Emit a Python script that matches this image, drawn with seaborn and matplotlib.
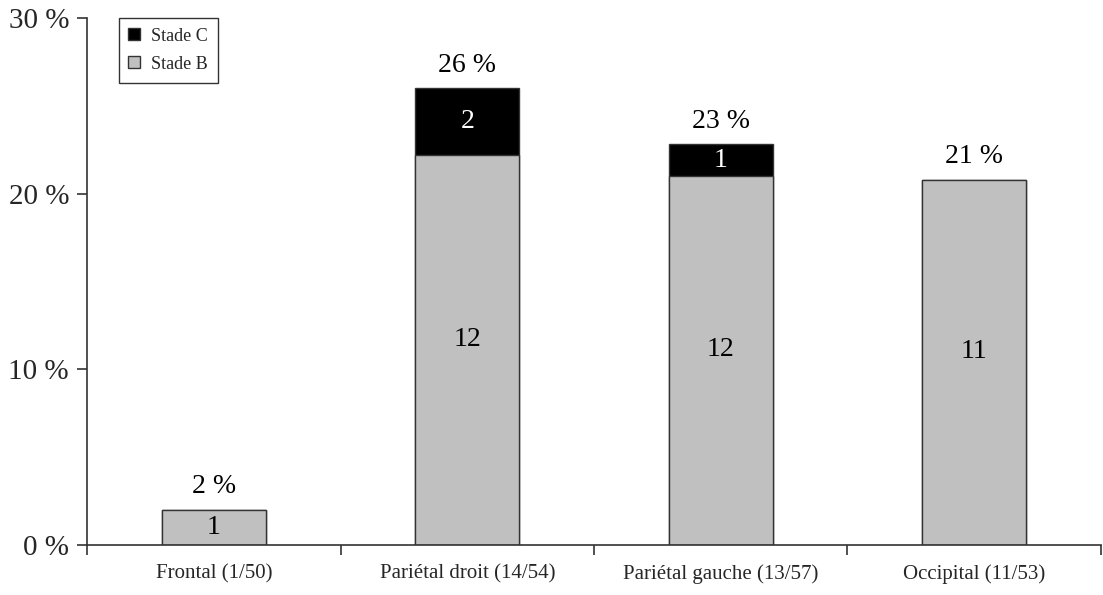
import numpy as np
import matplotlib.pyplot as plt
import seaborn as sns
import pandas as pd
from matplotlib.patches import Patch

categories = ["Frontal (1/50)", "Pariétal droit (14/54)", "Pariétal gauche (13/57)", "Occipital (11/53)"]
stade_b_pct = [2.0, 22.2, 21.0, 20.8]
stade_c_pct = [0.0, 3.8, 1.8, 0.0]
stade_b_n = ["1", "12", "12", "11"]
stade_c_n = ["", "2", "1", ""]
total_labels = ["2 %", "26 %", "23 %", "21 %"]

GREY = "#c0c0c0"

sns.set_style("white")
plt.rcParams["font.family"] = ["Liberation Serif", "DejaVu Serif"]

df = pd.DataFrame({"lieu": categories, "b": stade_b_pct, "c": stade_c_pct})
df["total"] = df["b"] + df["c"]

fig = plt.figure(figsize=(11.03, 5.95), dpi=100)
ax = fig.add_axes([0.079, 0.084, 0.919, 0.886])

sns.barplot(x="lieu", y="total", data=df, color="black", edgecolor="#333333",
            linewidth=1, width=0.41, saturation=1, ax=ax)
sns.barplot(x="lieu", y="b", data=df, color=GREY, edgecolor="#333333",
            linewidth=1, width=0.41, saturation=1, ax=ax)

for i in range(len(categories)):
    b = stade_b_pct[i]
    c = stade_c_pct[i]
    # small upward nudge on the tall bars, as in the original
    y_mid = b / 2 + (0.6 if b > 5 else 0)
    ax.text(i, y_mid, stade_b_n[i], ha="center", va="center", fontsize=20, color="black")
    if stade_c_n[i]:
        ax.text(i, b + c / 2, stade_c_n[i], ha="center", va="center", fontsize=20, color="white")
    ax.text(i, b + c + 0.6, total_labels[i], ha="center", va="bottom", fontsize=20, color="black")

ax.set_xlim(-0.5, 3.5)
ax.set_ylim(0, 30)
ax.set_yticks([0, 10, 20, 30])
ax.set_yticklabels(["0 %", "10 %", "20 %", "30 %"], fontsize=21)
ax.set_xticks([-0.5, 0.5, 1.5, 2.5, 3.5])
ax.set_xticklabels([])
ax.set_xticks(range(len(categories)), minor=True)
ax.set_xticklabels(categories, minor=True, fontsize=15)
ax.tick_params(axis="x", which="major", bottom=True, direction="out", length=7, width=1.2, color="#333333")
ax.tick_params(axis="x", which="minor", bottom=True, length=0, pad=14)
ax.tick_params(axis="y", left=True, direction="out", length=7, width=1.2, color="#333333", pad=6)
ax.set_xlabel("")
ax.set_ylabel("")
sns.despine(ax=ax)
for side in ["left", "bottom"]:
    ax.spines[side].set_color("#333333")
    ax.spines[side].set_linewidth(1.2)

handles = [Patch(facecolor="black", edgecolor="#333333", label="Stade C"),
           Patch(facecolor=GREY, edgecolor="#333333", label="Stade B")]
leg = ax.legend(handles=handles, loc="upper left", bbox_to_anchor=(0.031, 1.0),
                borderaxespad=0, fontsize=13, frameon=True, fancybox=False,
                handlelength=0.65, handleheight=0.65, handletextpad=0.6,
                borderpad=0.55, labelspacing=0.6)
leg.get_frame().set_edgecolor("black")
leg.get_frame().set_linewidth(1)

fig.savefig("out.png", dpi=100)
